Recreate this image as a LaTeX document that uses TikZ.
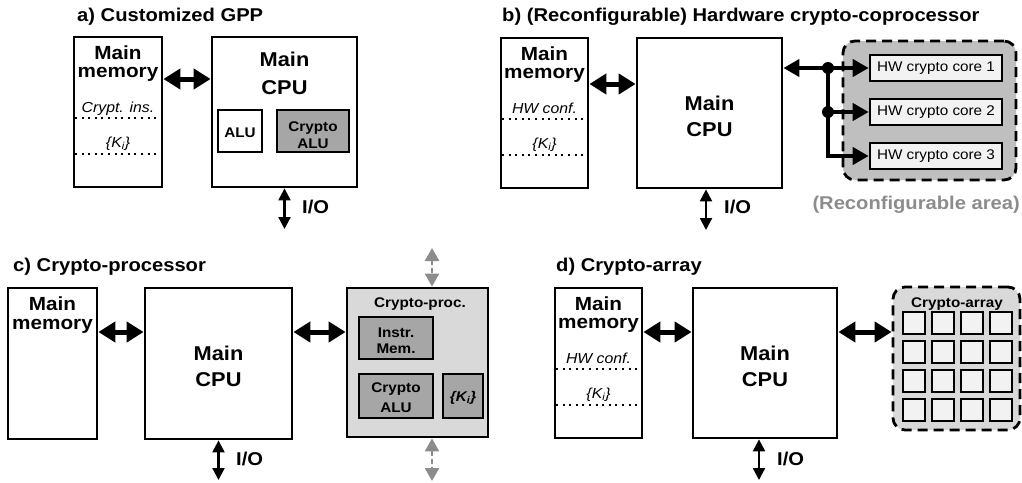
\documentclass[tikz,border=0pt]{standalone}
\usepackage{fontspec}
\setmainfont{Liberation Sans}[FakeStretch=1.09]
\usetikzlibrary{arrows.meta,calc,fit}
\definecolor{areagray}{HTML}{BFBFBF}
\definecolor{lgray}{HTML}{D9D9D9}
\definecolor{mgray}{HTML}{A6A6A6}
\definecolor{cellgray}{HTML}{F2F2F2}
\definecolor{arrgray}{HTML}{8C8C8C}
\begin{document}
\begin{tikzpicture}[x=1pt,y=-1pt,
  box/.style={draw, line width=2.8pt, inner sep=0pt},
  box2/.style={draw, line width=2pt, inner sep=0pt},
  ttl/.style={font=\fontsize{18.5}{22}\selectfont\bfseries, anchor=base west, inner sep=0pt},
  big/.style={font=\fontsize{19}{22}\selectfont\bfseries, anchor=base, inner sep=0pt},
  cpu/.style={font=\fontsize{20}{24}\selectfont\bfseries, anchor=base, inner sep=0pt},
  ital/.style={font=\fontsize{14.5}{17}\selectfont\itshape, anchor=base, inner sep=0pt},
  sml/.style={font=\fontsize{14}{16}\selectfont\bfseries, anchor=base, inner sep=0pt},
  iot/.style={font=\fontsize{18.5}{22}\selectfont\bfseries, anchor=base west, inner sep=0pt},
  dots/.style={line width=2pt, dash pattern=on 2pt off 4.6pt},
  dbl/.style={line width=5pt, {Triangle[length=17pt,width=20pt]}-{Triangle[length=17pt,width=20pt]}},
  brarrow/.style={line width=4.5pt, -{Triangle[length=16pt,width=17pt]}},
  io/.style={line width=2.2pt, {Triangle[length=12pt,width=12pt]}-{Triangle[length=12pt,width=12pt]}},
  garr/.style={draw=arrgray, line width=2.5pt, dash pattern=on 5pt off 3pt,
    {Triangle[length=13pt,width=14pt]}-{Triangle[length=13pt,width=14pt]}},
  cell/.style={draw, line width=1.5pt, fill=cellgray, minimum size=22pt, inner sep=0pt},
  corebox/.style={draw, line width=2.6pt, fill=cellgray, inner sep=0pt},
  coretxt/.style={font=\fontsize{14}{16}\selectfont, inner sep=0pt}
]
\useasboundingbox (0,0) rectangle (1022,482);

% ---------------- a) ----------------
\node[ttl] (ta) at (77,21) {a) Customized GPP};
\node[box, fit={(74,37)(162,187)}] (amem) {};
\node[big] (amem1) at (118,59) {Main};
\node[big] (amem2) at (118,77) {memory};
\node[ital] (ains) at (118,112) {Crypt. ins.};
\draw[dots] (75,118) -- (161,118);
\node[ital] (aki) at (118,147) {\{K\textsubscript{i}\}};
\draw[dots] (75,154) -- (161,154);
\node[box, fit={(212,37)(357,187)}] (acpu) {};
\node[cpu] (acpu1) at (284.5,66) {Main};
\node[cpu] (acpu2) at (284.5,94) {CPU};
\node[box2, fill=white, fit={(218,110)(262,152)}] (aalu) {};
\node[sml] (aalut) at (240,137) {ALU};
\node[box2, fill=mgray, fit={(277,110)(349,152)}] (acalu) {};
\node[sml] (acalu1) at (313,131) {Crypto};
\node[sml] (acalu2) at (313,148) {ALU};
\coordinate (aya) at (0,79);
\draw[dbl] (amem.east |- aya) -- (acpu.west |- aya);
\coordinate (aio) at (284.5,229);
\draw[io] (acpu.south -| aio) -- (aio);
\node[iot] (aiot) at (302,213) {I/O};

% ---------------- b) ----------------
\node[ttl] (tb) at (502,21) {b) (Reconfigurable) Hardware crypto-coprocessor};
\node[box, fit={(501,38)(588,188)}] (bmem) {};
\node[big] (bmem1) at (544.5,60) {Main};
\node[big] (bmem2) at (544.5,78) {memory};
\node[ital] (bhw) at (544.5,113) {HW conf.};
\draw[dots] (502,119) -- (587,119);
\node[ital] (bki) at (544.5,148) {\{K\textsubscript{i}\}};
\draw[dots] (502,155) -- (587,155);
\node[box, fit={(637,38)(782,188)}] (bcpu) {};
\node[cpu] (bcpu1) at (709.5,110) {Main};
\node[cpu] (bcpu2) at (709.5,136) {CPU};
\coordinate (bya) at (0,84);
\draw[dbl] (bmem.east |- bya) -- (bcpu.west |- bya);
\node[draw, line width=2.8pt, dash pattern=on 10pt off 6pt, rounded corners=12pt,
      fill=areagray, inner sep=0pt, fit={(843,41)(1016,180)}] (barea) {};
\node[corebox, fit={(870,55)(1002,81)}] (bc1) {};
\node[coretxt] (bc1t) at (bc1) {HW crypto core 1};
\node[corebox, fit={(870,99)(1002,125)}] (bc2) {};
\node[coretxt] (bc2t) at (bc2) {HW crypto core 2};
\node[corebox, fit={(870,143)(1002,169)}] (bc3) {};
\node[coretxt] (bc3t) at (bc3) {HW crypto core 3};
\coordinate (bj1) at (828,68);
\coordinate (bj2) at (828,112);
\draw[line width=4.5pt, {Triangle[length=16pt,width=17pt]}-] (bcpu.east |- bj1) -- (bj1);
\draw[brarrow] (bj1) -- (bc1.west |- bj1);
\draw[brarrow] (bj2) -- (bc2.west |- bj2);
\draw[line width=4.5pt, line join=miter] (bj1) -- (bj1 |- bc3.west) -- ([xshift=-14pt]bc3.west);
\draw[brarrow] ([xshift=-17pt]bc3.west) -- (bc3.west);
\fill (bj1) circle (6pt);
\fill (bj2) circle (6pt);
\node[font=\fontsize{18.5}{22}\selectfont\bfseries, text=arrgray, anchor=base east, inner sep=0pt] (bareat) at (1020,209) {(Reconfigurable area)};
\coordinate (bio) at (706,230);
\draw[io] (bcpu.south -| bio) -- (bio);
\node[iot] (biot) at (724,213) {I/O};

% ---------------- c) ----------------
\node[ttl] (tc) at (13,271) {c) Crypto-processor};
\node[box, fit={(8,288)(97,439)}] (cmem) {};
\node[big] (cmem1) at (52.5,310) {Main};
\node[big] (cmem2) at (52.5,329) {memory};
\node[box, fit={(145,288)(292,439)}] (ccpu) {};
\node[cpu] (ccpu1) at (218.5,360) {Main};
\node[cpu] (ccpu2) at (218.5,386) {CPU};
\node[box, fill=lgray, fit={(347,288)(488,437)}] (cproc) {};
\node[sml] (cproct) at (420,307) {Crypto-proc.};
\node[box2, fill=mgray, fit={(359,317)(433,359)}] (cim) {};
\node[sml] (cim1) at (396,337) {Instr.};
\node[sml] (cim2) at (396,353) {Mem.};
\node[box2, fill=mgray, fit={(359,374)(433,418)}] (calu) {};
\node[sml] (calu1) at (396,392) {Crypto};
\node[sml] (calu2) at (396,412) {ALU};
\node[box2, fill=mgray, fit={(443,374)(483,418)}] (cki) {};
\node[sml, font=\fontsize{14}{16}\selectfont\bfseries\itshape] (ckit) at (463,401) {\{K\textsubscript{i}\}};
\coordinate (cya) at (0,332);
\draw[dbl] (cmem.east |- cya) -- (ccpu.west |- cya);
\draw[dbl] (ccpu.east |- cya) -- (cproc.west |- cya);
\coordinate (ctop) at (432,248);
\coordinate (cbot) at (432,481);
\draw[garr] (ctop) -- (ctop |- cproc.north);
\draw[garr] (cbot |- cproc.south) -- (cbot);
\coordinate (cio) at (218.5,480);
\draw[io] (ccpu.south -| cio) -- (cio);
\node[iot] (ciot) at (236,465) {I/O};

% ---------------- d) ----------------
\node[ttl] (td) at (556,271) {d) Crypto-array};
\node[box, fit={(555,288)(642,438)}] (dmem) {};
\node[big] (dmem1) at (598.5,310) {Main};
\node[big] (dmem2) at (598.5,328) {memory};
\node[ital] (dhw) at (598.5,363) {HW conf.};
\draw[dots] (556,369) -- (641,369);
\node[ital] (dki) at (598.5,398) {\{K\textsubscript{i}\}};
\draw[dots] (556,405) -- (641,405);
\node[box, fit={(693,288)(837,438)}] (dcpu) {};
\node[cpu] (dcpu1) at (765,360) {Main};
\node[cpu] (dcpu2) at (765,386) {CPU};
\node[draw, line width=2.8pt, dash pattern=on 10pt off 6pt, rounded corners=12pt,
      fill=lgray, inner sep=0pt, fit={(893,287)(1020,430)}] (darr) {};
\node[sml] (darrt) at (957,307) {Crypto-array};
\foreach \i in {0,...,3}{
  \foreach \j in {0,...,3}{
    \node[cell] (dc\i\j) at (914+29*\i, 323+29*\j) {};
  }
}
\coordinate (dya) at (0,332);
\draw[dbl] (dmem.east |- dya) -- (dcpu.west |- dya);
\draw[dbl] (dcpu.east |- dya) -- (darr.west |- dya);
\coordinate (dio) at (759,480);
\draw[io] (dcpu.south -| dio) -- (dio);
\node[iot] (diot) at (777,465) {I/O};
\end{tikzpicture}
\end{document}
